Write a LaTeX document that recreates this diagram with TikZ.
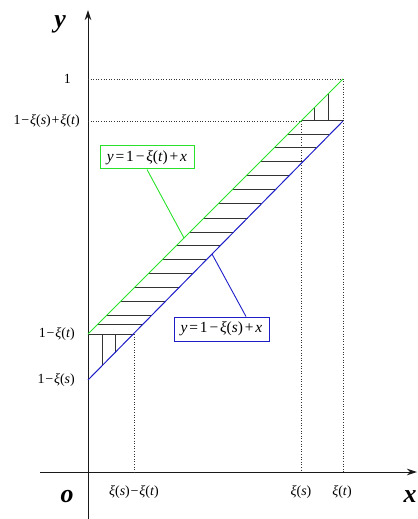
\documentclass[tikz,border=0pt]{standalone}
\usepackage{fontspec}
\setmainfont{Liberation Serif}
\usetikzlibrary{arrows.meta}
\definecolor{lgreen}{RGB}{40,225,40}
\definecolor{lblue}{RGB}{30,30,200}
\newcommand{\vi}[1]{\textit{#1}}
\newcommand{\op}[1]{\hspace{0.06em}#1\hspace{0.06em}}
\newcommand{\bop}[1]{\hspace{0.12em}#1\hspace{0.12em}}
\begin{document}
\begin{tikzpicture}[x=1bp,y=-1bp,
  axisline/.style={line width=1bp, black!90, -{Stealth[length=10bp,width=6.5bp]}},
  dotline/.style={black!80, line width=0.9bp, dash pattern=on 1bp off 1.6bp},
  hatch/.style={black!80, line width=1bp},
  tick/.style={font=\fontsize{14}{16}\selectfont, inner sep=0pt},
  axlab/.style={font=\fontsize{26}{28}\selectfont\bfseries\itshape, inner sep=0pt, anchor=base},
  eqbox/.style={draw, line width=1bp, fill=white, minimum width=94bp, minimum height=23bp, inner sep=0pt, font=\fontsize{15.5}{17}\selectfont}
]
\useasboundingbox (0,0) rectangle (417,519);

% key points
\coordinate (O) at (88,472);
\coordinate (ytop) at (88,10);
\coordinate (ybot) at (88,519);
\coordinate (xleft) at (40,472);
\coordinate (xright) at (417,472);
\coordinate (A) at (88,334);   % green start
\coordinate (B) at (343,79);   % green end
\coordinate (C) at (88,380);   % blue start
\coordinate (D) at (343,121);  % blue end
\coordinate (E) at (301,121);  % green at y=121
\coordinate (F) at (134,334);  % blue at y=334
\coordinate (Y1) at (88,79);
\coordinate (Y2) at (88,121);
\coordinate (Xs) at (301,472);
\coordinate (Xt) at (343,472);
\coordinate (Xst) at (134,472);

% axes
\draw[axisline] (ybot) -- (ytop);
\draw[axisline] (xleft) -- (xright);

% dotted guides
\draw[dotline] (Y1) -- (B) -- (Xt);
\draw[dotline] (Y2) -- (E) -- (Xs);
\draw[dotline] (F) -- (Xst);

% hatching: horizontal lines between green and blue
\foreach \yy in {135,148,162,176,190,203,218,232,245,259,273,287,301,315,324}{
  \pgfmathsetmacro{\xg}{422-\yy}
  \pgfmathsetmacro{\xb}{88+(380-\yy)/259*255}
  \draw[hatch] (\xg,\yy) -- (\xb,\yy);
}
\draw[hatch] (E) -- (D);
\draw[hatch] (A) -- (F);
% vertical hatching in the two small triangles
\draw[hatch] (102,334) -- (102,365.7);
\draw[hatch] (115,334) -- (115,352.6);
\draw[hatch] (314,121) -- (314,108);
\draw[hatch] (328,121) -- (328,94);

% the two lines
\draw[lgreen, line width=1bp] (A) -- (B);
\draw[lblue, line width=1bp] (C) -- (D);

% equation boxes and leaders
\coordinate (gpt) at (184,238);
\coordinate (bpt) at (212,254);
\node[eqbox, draw=lgreen] (gbox) at (147,157.5) {\vi{y}\bop{=}1\bop{−}\vi{ξ}(\vi{t})\bop{+}\vi{x}};
\node[eqbox, draw=lblue, minimum width=95bp, minimum height=24bp] (bbox) at (221.5,329) {\vi{y}\bop{=}1\bop{−}\vi{ξ}(\vi{s})\bop{+}\vi{x}};
\draw[lgreen, line width=0.9bp] (gbox.south) -- (gpt);
\draw[lblue, line width=0.9bp] ([xshift=24.5bp]bbox.north) -- (bpt);

% tick labels
\node[tick, anchor=east] (l1) at (71,79) {1};
\node[tick, anchor=east] (l2) at (80,121) {1\op{−}\vi{ξ}(\vi{s})\op{+}\vi{ξ}(\vi{t})};
\node[tick, anchor=east] (l3) at (75,334) {1\op{−}\vi{ξ}(\vi{t})};
\node[tick, anchor=east] (l4) at (75,380) {1\op{−}\vi{ξ}(\vi{s})};
\node[tick] (b1) at (134,492) {\vi{ξ}(\vi{s})\op{−}\vi{ξ}(\vi{t})};
\node[tick] (b2) at (301,492) {\vi{ξ}(\vi{s})};
\node[tick] (b3) at (342,492) {\vi{ξ}(\vi{t})};

% axis letters
\node[axlab] (ly) at (60,28) {y};
\node[axlab] (lo) at (67,502) {o};
\node[axlab] (lx) at (410,502) {x};
\end{tikzpicture}
\end{document}
